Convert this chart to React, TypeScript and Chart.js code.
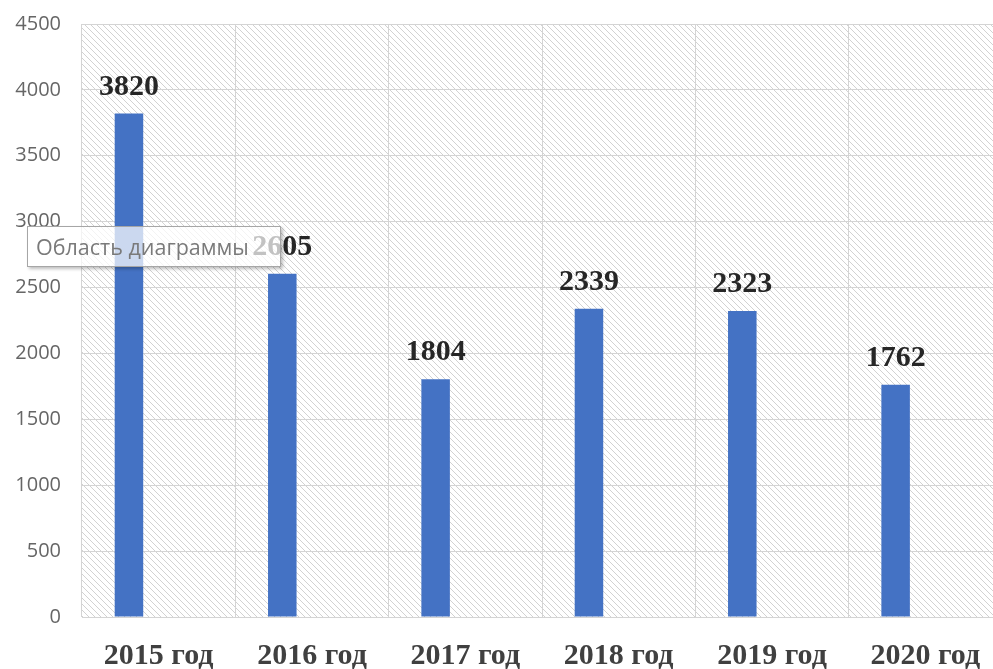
import React, { useEffect, useRef } from "react";
import { Chart, registerables } from "chart.js";

Chart.register(...registerables);

const categories = ["2015 год", "2016 год", "2017 год", "2018 год", "2019 год", "2020 год"];
const values = [3820, 2605, 1804, 2339, 2323, 1762];
const emptySeries = [null, null, null, null, null, null];
const yMin = 0;
const yMax = 4500;
const yStep = 500;
const tooltipText = "Область диаграммы";

function makeHatch(): CanvasPattern | string {
  const c = document.createElement("canvas");
  const s = 6;
  c.width = s;
  c.height = s;
  const g = c.getContext("2d");
  if (!g) return "#fff";
  g.fillStyle = "#ffffff";
  g.fillRect(0, 0, s, s);
  g.strokeStyle = "#d2d2d2";
  g.lineWidth = 1;
  g.beginPath();
  g.moveTo(-1, -1);
  g.lineTo(s + 1, s + 1);
  g.moveTo(-1, s - 1);
  g.lineTo(1, s + 1);
  g.moveTo(s - 1, -1);
  g.lineTo(s + 1, 1);
  g.stroke();
  const p = g.createPattern(c, "repeat");
  return p || "#fff";
}

const hatchPlugin = {
  id: "hatchBg",
  beforeDraw(chart: any) {
    const { ctx, chartArea } = chart;
    ctx.save();
    ctx.fillStyle = makeHatch();
    ctx.fillRect(chartArea.left, chartArea.top, chartArea.right - chartArea.left, chartArea.bottom - chartArea.top);
    ctx.restore();
  },
};

const labelPlugin = {
  id: "valueLabels",
  afterDatasetsDraw(chart: any) {
    const { ctx } = chart;
    const meta = chart.getDatasetMeta(0);
    ctx.save();
    ctx.font = "bold 30px 'Liberation Serif', 'Times New Roman', serif";
    ctx.fillStyle = "#262626";
    ctx.textAlign = "center";
    ctx.textBaseline = "alphabetic";
    meta.data.forEach((bar: any, i: number) => {
      ctx.fillText(String(values[i]), bar.x, bar.y - 19);
    });
    ctx.restore();
  },
};

export default function App() {
  const ref = useRef<HTMLCanvasElement | null>(null);
  useEffect(() => {
    if (!ref.current) return;
    const chart = new Chart(ref.current, {
      type: "bar",
      data: {
        labels: categories,
        datasets: [
          {
            data: values,
            backgroundColor: "#4472C4",
            categoryPercentage: 0.775,
            barPercentage: 0.48,
          },
          {
            data: emptySeries as any,
            backgroundColor: "#ED7D31",
            categoryPercentage: 0.775,
            barPercentage: 0.48,
          },
        ],
      },
      options: {
        animation: false,
        responsive: false,
        maintainAspectRatio: false,
        layout: { padding: { left: 0, right: 0, top: 24, bottom: 0 } },
        plugins: {
          legend: { display: false },
          tooltip: { enabled: false },
        },
        scales: {
          x: {
            grid: { color: "#d4d4d4", lineWidth: 1, drawTicks: false, offset: true },
            border: { display: false },
            ticks: {
              color: "#404040",
              font: { family: "'Liberation Serif', 'Times New Roman', serif", size: 30, weight: "bold" },
              padding: 21,
              maxRotation: 0,
              autoSkip: false,
            },
            afterFit(scale: any) {
              scale.height = 52;
              scale.paddingLeft = 0;
              scale.paddingRight = 0;
            },
          },
          y: {
            min: yMin,
            max: yMax,
            grid: { color: "#d4d4d4", lineWidth: 1, drawTicks: false },
            border: { display: false },
            ticks: {
              stepSize: yStep,
              color: "#666666",
              font: { family: "'Open Sans', sans-serif", size: 20 },
              padding: 21,
              callback: (v: any) => String(v),
            },
            afterFit(scale: any) {
              scale.width = 82;
              scale.paddingTop = 0;
              scale.paddingBottom = 0;
            },
          },
        },
      },
      plugins: [hatchPlugin, labelPlugin],
    });
    return () => chart.destroy();
  }, []);

  return (
    <div
      style={{
        position: "absolute",
        left: 0,
        top: 0,
        width: 993,
        height: 669,
        overflow: "hidden",
        background: "#ffffff",
      }}
    >
      <canvas ref={ref} width={1002} height={669} style={{ display: "block" }} />
      <div
        style={{
          position: "absolute",
          left: 27,
          top: 226,
          width: 244,
          height: 39,
          border: "1px solid #a6a6a6",
          background: "rgba(255,255,255,0.72)",
          boxShadow: "2px 2px 3px rgba(0,0,0,0.25)",
          color: "#7a7a7a",
          fontFamily: "'Open Sans', sans-serif",
          fontSize: 21.5,
          lineHeight: "39px",
          paddingLeft: 8,
          boxSizing: "content-box",
          whiteSpace: "nowrap",
          overflow: "hidden",
        }}
      >
        {tooltipText}
      </div>
    </div>
  );
}
